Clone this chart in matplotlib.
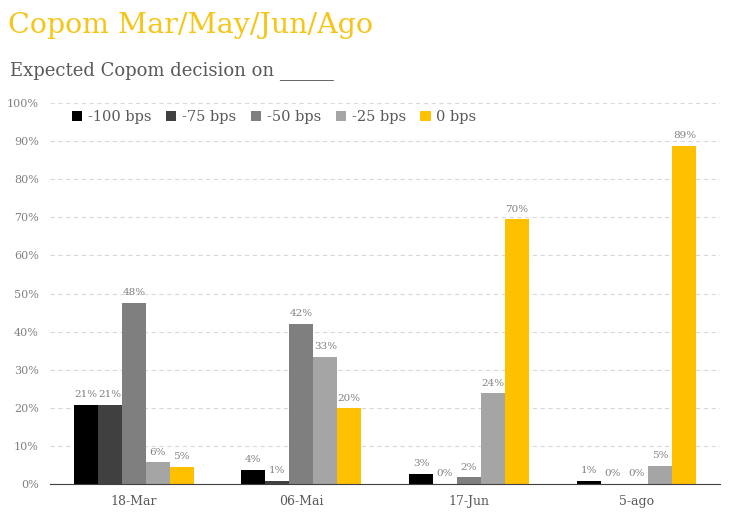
import matplotlib.pyplot as plt
import numpy as np

dates = ["18-Mar", "06-Mai", "17-Jun", "5-ago"]
series = ["-100 bps", "-75 bps", "-50 bps", "-25 bps", "0 bps"]
bps_100 = [20.8, 3.7, 2.7, 0.8]
bps_75 = [20.8, 0.9, 0.0, 0.0]
bps_50 = [47.6, 42.0, 1.8, 0.0]
bps_25 = [5.7, 33.3, 23.8, 4.7]
bps_0 = [4.6, 19.9, 69.5, 88.7]
colors = ["#000000", "#404040", "#7f7f7f", "#a5a5a5", "#ffc000"]

plt.rcParams['font.family'] = ['DejaVu Serif']

fig = plt.figure(figsize=(7.35, 5.15), dpi=100)
ax = fig.add_axes([0.068, 0.06, 0.912, 0.74])

x = np.arange(len(dates))
w = 0.143
for i, (vals, name) in enumerate(zip([bps_100, bps_75, bps_50, bps_25, bps_0], series)):
    pos = x + (i - 2) * w
    bars = ax.bar(pos, vals, w, color=colors[i], label=name, zorder=3)
    for b, v in zip(bars, vals):
        ax.text(b.get_x() + b.get_width() / 2, v + 1.5, f"{v:.0f}%",
                ha="center", va="bottom", fontsize=7.5, color="#808080")

ax.set_xlim(-0.5, 3.5)
ax.set_ylim(0, 100)
ax.set_yticks(np.arange(0, 101, 10))
ax.set_yticklabels([f"{t}%" for t in range(0, 101, 10)], fontsize=8, color="#808080")
ax.set_xticks(x)
ax.set_xticklabels(dates, fontsize=9, color="#595959")
ax.tick_params(length=0, pad=8)
ax.grid(axis="y", color="#d9d9d9", linestyle=(0, (4, 3)), linewidth=0.8, zorder=0)
for s in ["left", "right", "top"]:
    ax.spines[s].set_visible(False)
ax.spines["bottom"].set_color("#404040")
ax.spines["bottom"].set_zorder(4)

ax.legend(loc="upper left", bbox_to_anchor=(0.013, 1.015), ncol=5, frameon=False,
          fontsize=10.5, labelcolor="#595959", handlelength=0.7, handleheight=0.7,
          handletextpad=0.4, columnspacing=1.0)

fig.text(0.011, 0.935, "Copom Mar/May/Jun/Ago", fontsize=20.5, color="#f5c518")
fig.text(0.014, 0.855, "Expected Copom decision on ______", fontsize=13, color="#595959")

fig.savefig("out.png", dpi=100)
